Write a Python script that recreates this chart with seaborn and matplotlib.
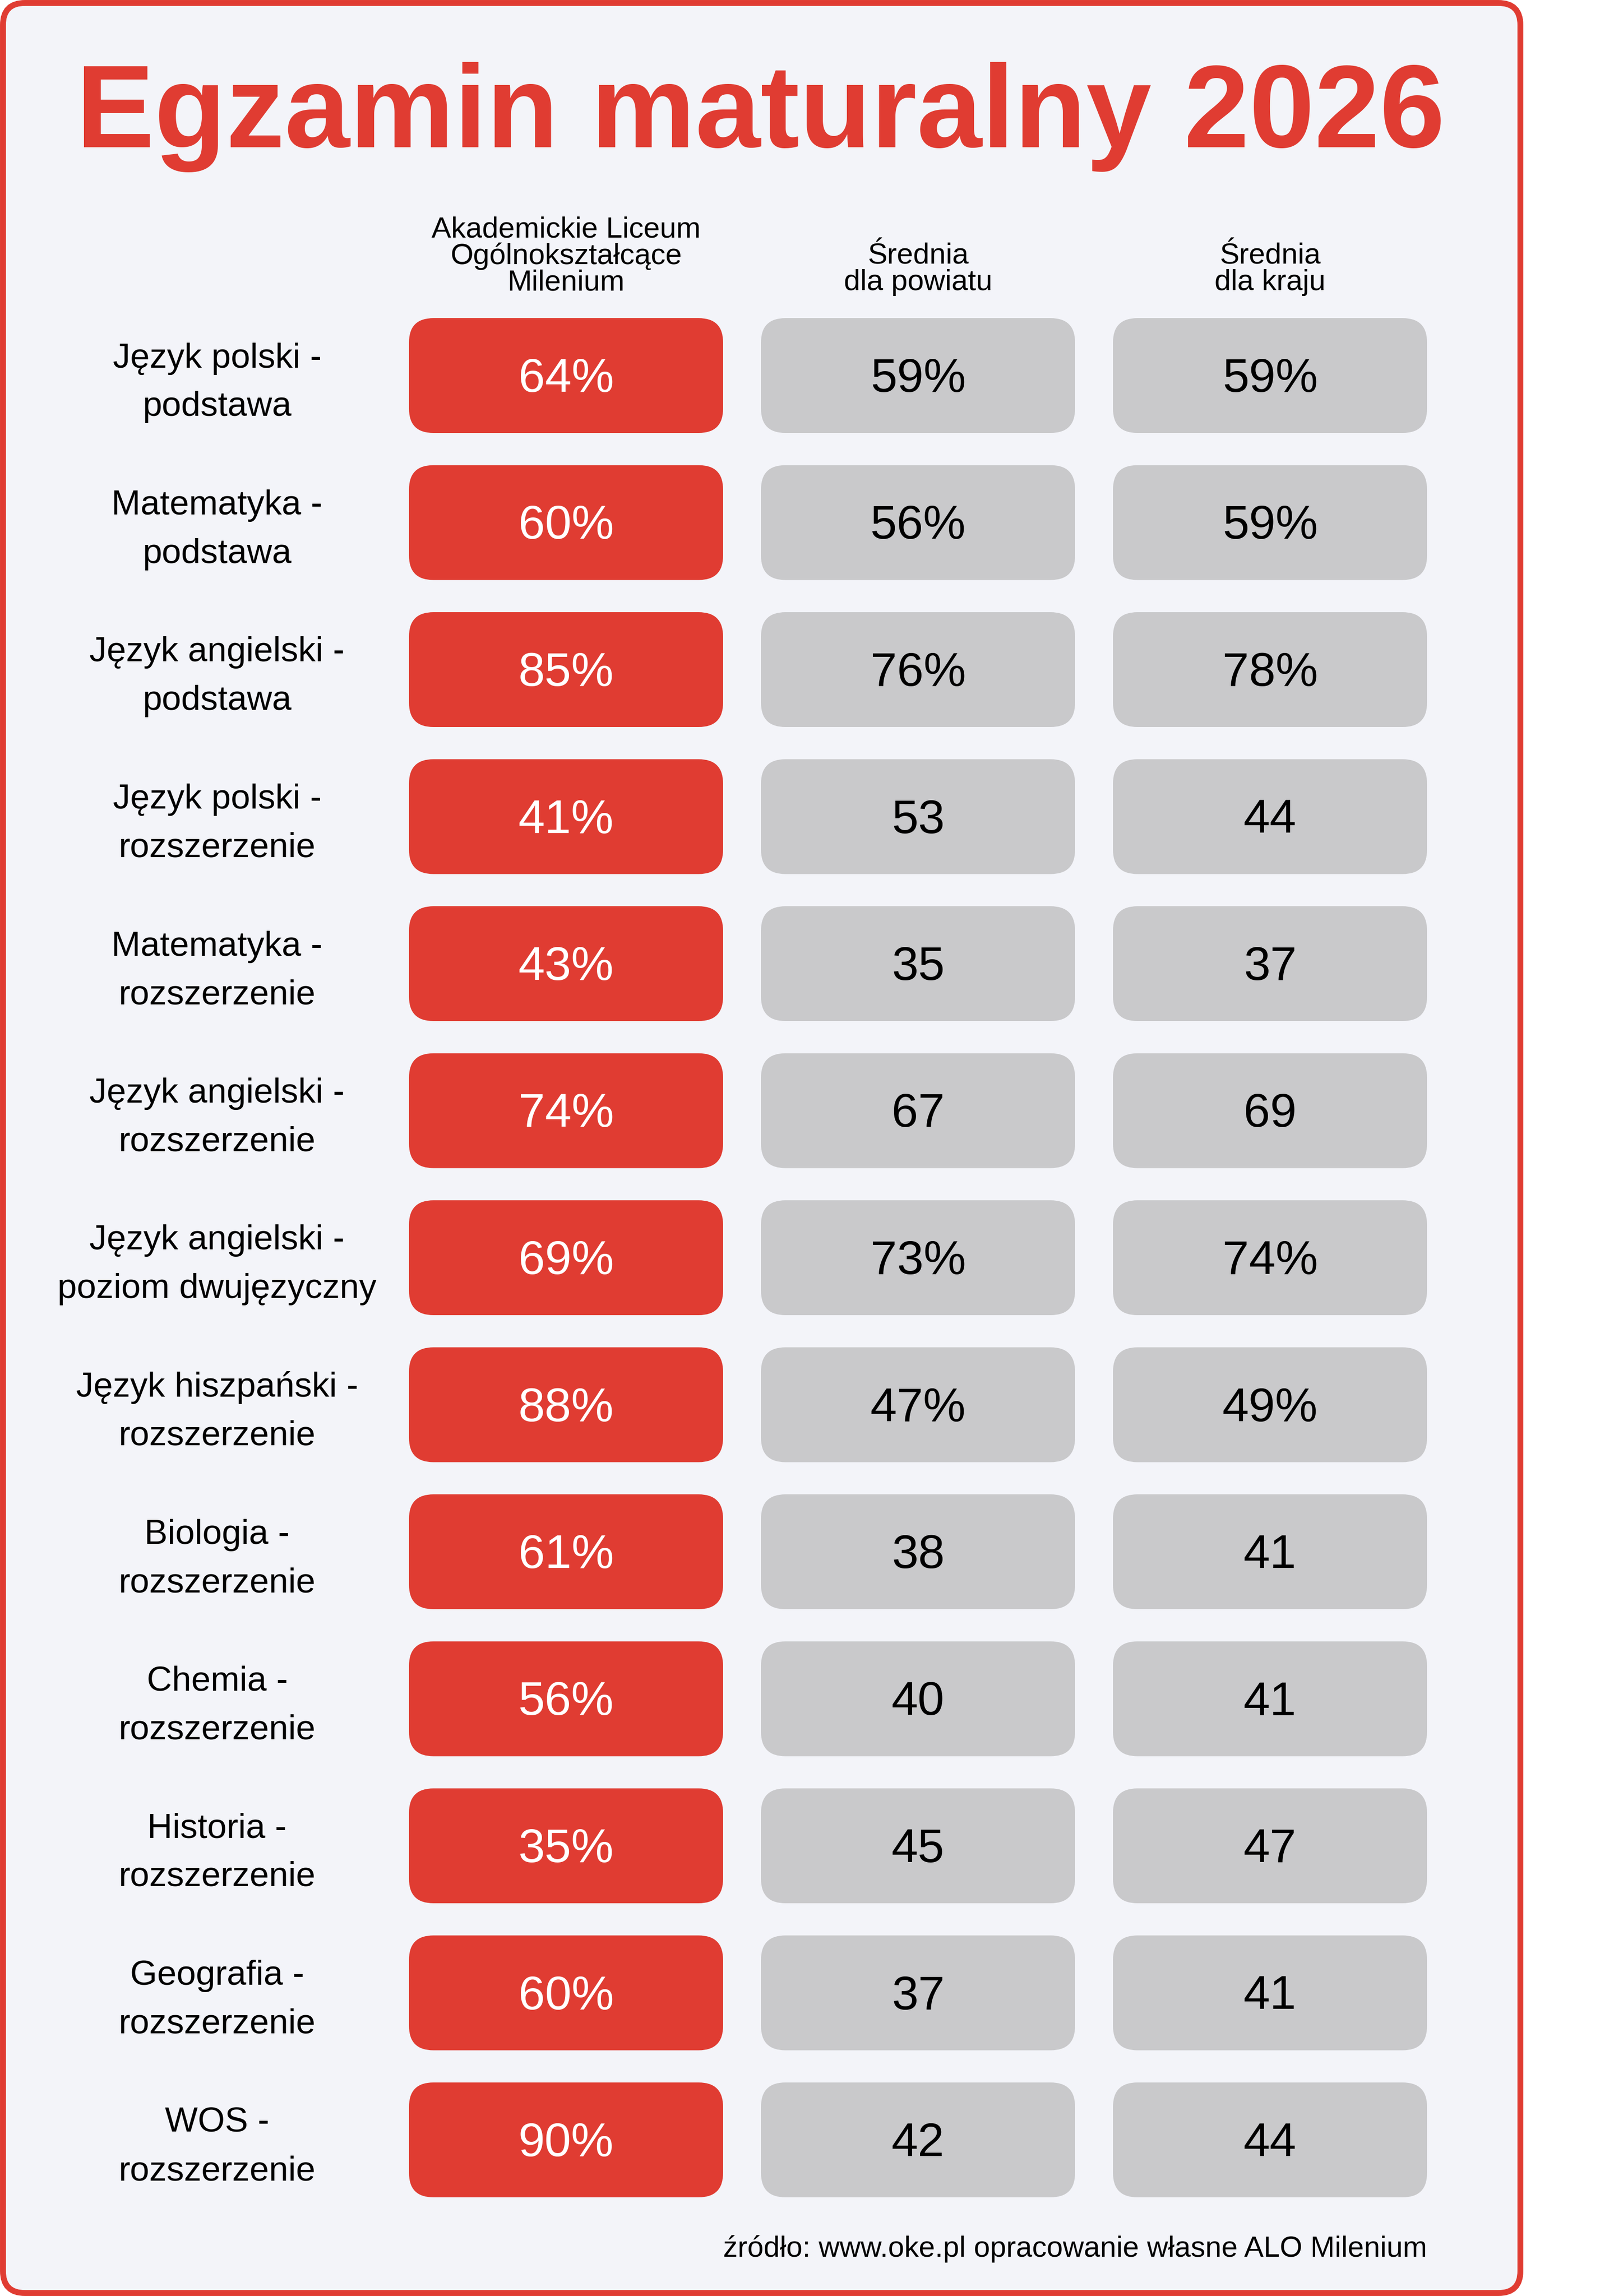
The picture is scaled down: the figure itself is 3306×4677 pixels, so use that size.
import matplotlib
matplotlib.use("Agg")
import matplotlib.pyplot as plt
from matplotlib.patches import FancyBboxPatch
import seaborn as sns

# === Data ===
title = "Egzamin maturalny 2026"
subjects = [
    "Język polski -\npodstawa",
    "Matematyka -\npodstawa",
    "Język angielski -\npodstawa",
    "Język polski -\nrozszerzenie",
    "Matematyka -\nrozszerzenie",
    "Język angielski -\nrozszerzenie",
    "Język angielski -\npoziom dwujęzyczny",
    "Język hiszpański -\nrozszerzenie",
    "Biologia -\nrozszerzenie",
    "Chemia -\nrozszerzenie",
    "Historia -\nrozszerzenie",
    "Geografia -\nrozszerzenie",
    "WOS -\nrozszerzenie",
]
columns = [
    "Akademickie Liceum\nOgólnokształcące\nMilenium",
    "Średnia\ndla powiatu",
    "Średnia\ndla kraju",
]
school = ["64%", "60%", "85%", "41%", "43%", "74%", "69%", "88%", "61%", "56%", "35%", "60%", "90%"]
county = ["59%", "56%", "76%", "53", "35", "67", "73%", "47%", "38", "40", "45", "37", "42"]
country = ["59%", "59%", "78%", "44", "37", "69", "74%", "49%", "41", "41", "47", "41", "44"]
source = "źródło: www.oke.pl opracowanie własne ALO Milenium"

# === Style ===
sns.set_theme(style="white")
plt.rcParams["font.family"] = ["Liberation Sans", "DejaVu Sans"]

RED = "#E03C32"
GRAY = "#C9C9CB"
BG = "#F3F4F9"

W, H = 3306, 4677
fig = plt.figure(figsize=(W / 100, H / 100), dpi=100, facecolor="white")

# === Card + title (pixel coordinates) ===
bg = fig.add_axes([0, 0, 1, 1])
bg.set_xlim(0, W)
bg.set_ylim(H, 0)
bg.axis("off")
bg.add_patch(FancyBboxPatch((6, 6), 3091, 4665,
                            boxstyle="round,pad=0,rounding_size=45",
                            facecolor=BG, edgecolor=RED, linewidth=8.6))
bg.text(1549, 300, title, ha="center", va="baseline",
        fontsize=172, fontweight="bold", color=RED)

# === Table axes: x in column units, y in row units ===
col_px, row_px = 717, 299.5
left_px, top_px = 833 - col_px, 648
n_rows = len(subjects)
ax = fig.add_axes([left_px / W, 1 - (top_px + n_rows * row_px) / H,
                   4 * col_px / W, n_rows * row_px / H])
ax.set_xlim(-1, 3)
ax.set_ylim(n_rows, 0)
ax.axis("off")

box_w, box_h = 640 / col_px, 234 / row_px
radius = 50 / col_px
aspect = col_px / row_px

values = [school, county, country]
for c, col_vals in enumerate(values):
    face = RED if c == 0 else GRAY
    txt = "white" if c == 0 else "black"
    for r, v in enumerate(col_vals):
        ax.add_patch(FancyBboxPatch((c, r), box_w, box_h,
                                    boxstyle=f"round,pad=0,rounding_size={radius}",
                                    mutation_aspect=aspect,
                                    facecolor=face, edgecolor="none"))
        ax.text(c + box_w / 2, r + 150 / row_px, v, ha="center", va="baseline",
                fontsize=70, color=txt)

# row labels
for r, label in enumerate(subjects):
    for k, line in enumerate(label.split("\n")):
        ax.text(-0.545, r + (100.5 + 98.5 * k) / row_px, line,
                ha="center", va="baseline", fontsize=51, color="black")

# column headers (bottom line aligned)
for c, head in enumerate(columns):
    lines = head.split("\n")
    for k, line in enumerate(reversed(lines)):
        ax.text(c + box_w / 2, -(57 + 53.5 * k) / row_px, line,
                ha="center", va="baseline", fontsize=43, color="black")

# source
ax.text(2 + box_w, n_rows + (4597 - top_px - n_rows * row_px) / row_px, source,
        ha="right", va="baseline", fontsize=42.7, color="black")

plt.savefig("out.png", dpi=100, facecolor="white")
plt.close()
